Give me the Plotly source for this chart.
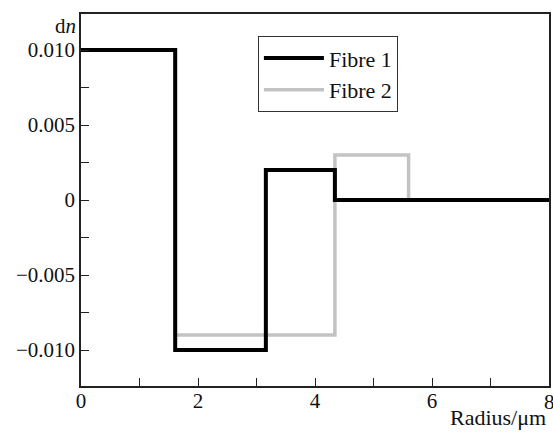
import plotly.graph_objects as go

# Data (step profiles): radius break points (um) and refractive index difference
fibre1_r = [0, 1.61, 3.16, 4.34, 8]
fibre1_dn = [0.010, -0.010, 0.002, 0.0, 0.0]
fibre2_r = [0, 1.61, 4.34, 5.6, 8]
fibre2_dn = [0.010, -0.009, 0.003, 0.0, 0.0]

x_tickvals = [0, 2, 4, 6, 8]
x_ticktext = ["0", "2", "4", "6", ""]   # "8" sits at the page edge, drawn below
y_tickvals = [0.010, 0.005, 0, -0.005, -0.010]
y_ticktext = ["0.010", "0.005", "0", "\u22120.005", "\u22120.010"]

FONT = "Liberation Serif"
FS = 21
COL = "#111"

fig = go.Figure()
fig.add_trace(go.Scatter(x=fibre2_r, y=fibre2_dn, mode="lines", name="Fibre 2",
                         line=dict(color="#c3c3c3", width=3.5, shape="hv")))
fig.add_trace(go.Scatter(x=fibre1_r, y=fibre1_dn, mode="lines", name="Fibre 1",
                         line=dict(color="#000000", width=4, shape="hv")))

fig.update_layout(
    width=553, height=432,
    margin=dict(l=81, r=4, t=14, b=46),
    paper_bgcolor="white", plot_bgcolor="white",
    font=dict(family=FONT, size=FS, color=COL),
    showlegend=True,
    legend=dict(x=0.378, y=0.94, xanchor="left", yanchor="top",
                traceorder="reversed",
                bordercolor="#333", borderwidth=1, bgcolor="white",
                font=dict(family=FONT, size=22, color=COL),
                tracegroupgap=0, itemwidth=60),
    xaxis=dict(range=[0, 8], tickvals=x_tickvals, ticktext=x_ticktext,
               automargin=False, ticklabelstandoff=-5,
               ticks="inside", ticklen=8, tickwidth=1.2, tickcolor="#222",
               minor=dict(ticks="inside", ticklen=8, dtick=1, tickwidth=1.2, tickcolor="#222"),
               showline=True, linecolor="#222", linewidth=1.5, mirror=True,
               showgrid=False, zeroline=False),
    yaxis=dict(range=[-0.0124, 0.0124], tickvals=y_tickvals, ticktext=y_ticktext,
               automargin=False,
               ticks="inside", ticklen=8, tickwidth=1.2, tickcolor="#222",
               minor=dict(ticks="inside", ticklen=8, dtick=0.0025, tickwidth=1.2, tickcolor="#222"),
               showline=True, linecolor="#222", linewidth=1.5, mirror=True,
               showgrid=False, zeroline=False),
    annotations=[
        dict(text="d<i>n</i>", xref="paper", yref="paper", x=0, y=1,
             xanchor="right", yanchor="middle", xshift=-3, yshift=-12,
             showarrow=False, font=dict(family=FONT, size=FS, color=COL)),
        dict(text="Radius/\u03bcm", xref="paper", yref="paper", x=1, y=0,
             xanchor="right", yanchor="bottom", xshift=-1, yshift=-46,
             showarrow=False, font=dict(family=FONT, size=22, color=COL)),
        dict(text="8", xref="paper", yref="paper", x=1, y=0,
             xanchor="center", yanchor="middle", yshift=-16,
             showarrow=False, font=dict(family=FONT, size=FS, color=COL)),
    ],
)

# remove the default 8px page margin so the 553x432 figure fills the window exactly
fig.write_html("out.html",
               config={"displayModeBar": False},
               post_script="document.body.style.margin='0';document.body.style.overflow='hidden';")
